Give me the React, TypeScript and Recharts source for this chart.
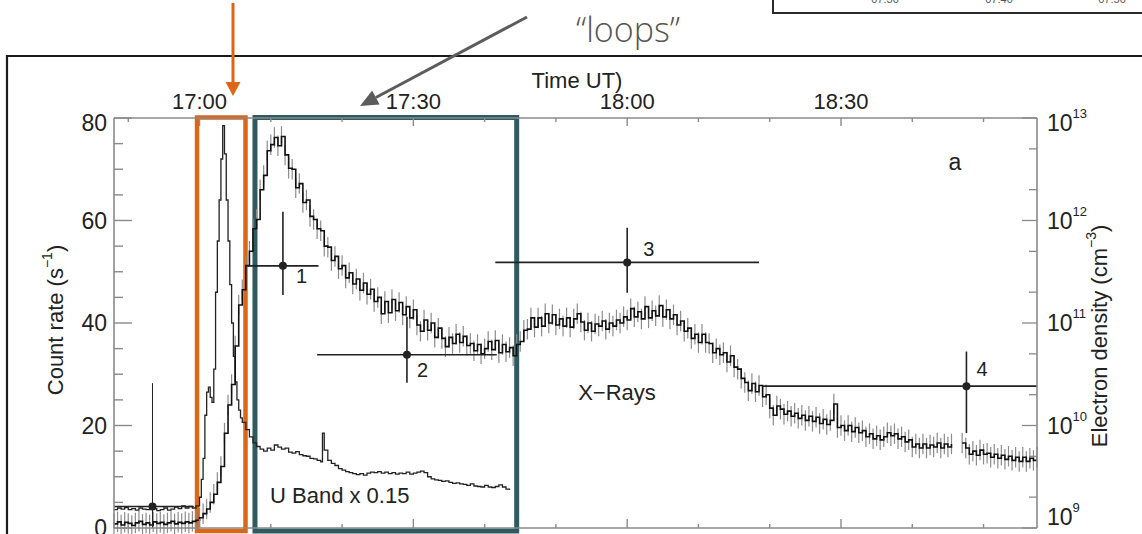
import {
  ComposedChart,
  ErrorBar,
  Line,
  ReferenceArea,
  Scatter,
  XAxis,
  YAxis,
} from "recharts";

const FONT = "'Liberation Sans', Arial, Helvetica, sans-serif";
const INK = "#222";
const AXIS = "#8a8a8a";
const ORANGE = "#dc6516";
const TEAL = "#2f5a60";
const ARROW_GREY = "#5c5c5c";

// time in minutes after 17:00 UT, X-ray count rate (s^-1); null = data gap
const xrayCounts: [number, number | null][] = [
  [-12, 0.8], [-11.5, 1.2], [-11, 0.6], [-10.5, 1.1], [-10, 0.9], [-9.5, 0.5],
  [-9, 1.0], [-8.5, 1.3], [-8, 0.7], [-7.5, 1.0], [-7, 0.6], [-6.5, 1.2],
  [-6, 0.9], [-5.5, 1.1], [-5, 0.7], [-4.5, 1.0], [-4, 1.3], [-3.5, 0.8],
  [-3, 1.1], [-2.5, 0.9], [-2, 1.2], [-1.5, 1.0], [-1, 1.3], [-0.5, 1.5],
  [0, 2.0], [0.5, 2.8], [1, 3.7], [1.5, 5.0], [2, 6.6], [2.5, 8.9],
  [3, 12.0], [3.5, 18.5], [4, 24.0], [4.5, 28.0], [5, 35.5], [5.5, 43.5],
  [6, 46.5], [6.5, 51.2], [7, 54.0], [7.5, 58.4], [8, 60.2], [8.5, 66.0],
  [9, 68.8], [9.5, 73.6], [10, 74.8], [10.5, 76.2], [11, 74.6], [11.5, 76.4],
  [12, 72.8], [12.5, 70.2], [13, 70.0], [13.5, 66.4], [14, 67.2], [14.5, 63.5],
  [15, 64.0], [15.5, 60.8], [16, 60.2], [16.5, 58.4], [17, 58.0], [17.5, 55.0],
  [18, 54.8], [18.5, 52.2], [19, 53.0], [19.5, 50.6], [20, 51.2], [20.5, 48.8],
  [21, 49.8], [21.5, 47.6], [22, 48.6], [22.5, 46.4], [23, 47.8], [23.5, 45.6],
  [24, 46.6], [24.5, 44.2], [25, 45.0], [25.5, 41.8], [26, 44.2], [26.5, 42.0],
  [27, 44.6], [27.5, 42.4], [28, 44.0], [28.5, 41.6], [29, 43.2], [29.5, 41.0],
  [30, 42.6], [30.5, 39.6], [31, 38.4], [31.5, 40.6], [32, 38.6], [32.5, 40.0],
  [33, 37.2], [33.5, 39.0], [34, 37.0], [34.5, 35.4], [35, 37.2], [35.5, 36.0],
  [36, 37.8], [36.5, 36.2], [37, 37.4], [37.5, 35.6], [38, 36.0], [38.5, 34.6],
  [39, 35.8], [39.5, 34.0], [40, 35.0], [40.5, 36.4], [41, 34.8], [41.5, 36.6],
  [42, 34.2], [42.5, 35.8], [43, 34.4], [43.5, 35.2], [44, 33.6], [44.5, 35.8],
  [45, 36.4], [45.5, 38.6], [46, 38.8], [46.5, 41.0], [47, 39.2], [47.5, 41.0],
  [48, 39.4], [48.5, 41.8], [49, 40.0], [49.5, 41.6], [50, 39.6], [50.5, 40.8],
  [51, 39.4], [51.5, 41.0], [52, 39.2], [52.5, 40.8], [53, 41.8], [53.5, 40.2],
  [54, 38.6], [54.5, 40.0], [55, 38.4], [55.5, 39.8], [56, 39.4], [56.5, 40.4],
  [57, 38.8], [57.5, 40.0], [58, 39.4], [58.5, 40.6], [59, 40.0], [59.5, 41.2],
  [60, 40.6], [60.5, 42.8], [61, 41.2], [61.5, 42.2], [62, 40.8], [62.5, 43.2],
  [63, 41.0], [63.5, 42.4], [64, 41.4], [64.5, 43.4], [65, 41.2], [65.5, 42.6],
  [66, 40.8], [66.5, 41.6], [67, 39.6], [67.5, 40.4], [68, 38.4], [68.5, 39.0],
  [69, 37.0], [69.5, 37.8], [70, 36.2], [70.5, 37.8], [71, 36.2], [71.5, 36.0],
  [72, 34.2], [72.5, 35.0], [73, 33.8], [73.5, 34.2], [74, 32.4], [74.5, 33.6],
  [75, 31.4], [75.5, 31.0], [76, 29.2], [76.5, 28.4], [77, 26.8], [77.5, 28.2],
  [78, 26.6], [78.5, 27.8], [79, 25.6], [79.5, 26.0], [80, 23.4], [80.5, 22.0],
  [81, 23.8], [81.5, 23.2], [82, 22.2], [82.5, 22.8], [83, 21.8], [83.5, 22.4],
  [84, 21.4], [84.5, 22.0], [85, 21.0], [85.5, 21.8], [86, 20.8], [86.5, 21.6],
  [87, 20.4], [87.5, 21.2], [88, 20.2], [88.5, 21.0], [89, 24.2], [89.5, 19.6],
  [90, 20.0], [90.5, 19.0], [91, 20.0], [91.5, 18.8], [92, 19.6], [92.5, 18.6],
  [93, 19.0], [93.5, 17.8], [94, 18.4], [94.5, 17.4], [95, 18.0], [95.5, 17.2],
  [96, 17.8], [96.5, 18.6], [97, 18.0], [97.5, 18.4], [98, 17.4], [98.5, 17.8],
  [99, 16.8], [99.5, 17.2], [100, 15.8], [100.5, 16.4], [101, 15.6], [101.5, 16.4],
  [102, 15.6], [102.5, 16.2], [103, 15.8], [103.5, 16.6], [104, 15.6], [104.5, 16.4],
  [105, 15.8], [105.5, 16.4], [106, null], [107, 16.6], [107.5, 15.6], [108, 14.4],
  [108.5, 15.0], [109, 14.2], [109.5, 15.2], [110, 14.4], [110.5, 14.6], [111, 13.8],
  [111.5, 14.4], [112, 13.6], [112.5, 14.2], [113, 13.4], [113.5, 14.0], [114, 13.2],
  [114.5, 13.8], [115, 13.0], [115.5, 13.8], [116, 13.0], [116.5, 13.6], [117, 13.2],
  [117.5, 13.8],
];

// U band rate already multiplied by 0.15
const uBandScaled: [number, number][] = [
  [-12, 3.6], [-11.5, 3.9], [-11, 3.7], [-10.5, 4.0], [-10, 3.6], [-9.5, 3.8],
  [-9, 3.5], [-8.5, 3.9], [-8, 3.7], [-7.5, 3.6], [-7, 4.0], [-6.5, 3.8],
  [-6, 3.4], [-5.5, 3.6], [-5, 3.9], [-4.5, 3.5], [-4, 3.7], [-3.5, 4.1],
  [-3, 3.8], [-2.5, 4.3], [-2, 3.9], [-1.5, 4.2], [-1, 3.9], [-0.5, 4.3],
  [0, 6.0], [0.25, 9.5], [0.5, 13.6], [0.75, 22.0], [1, 26.5], [1.25, 27.5],
  [1.5, 25.5], [1.75, 24.5], [2, 31.0], [2.25, 46.0], [2.5, 56.0], [2.75, 64.0],
  [3, 72.0], [3.25, 78.5], [3.5, 73.0], [3.75, 64.0], [4, 56.0], [4.25, 47.5],
  [4.5, 40.0], [4.75, 33.5], [5, 28.5], [5.25, 25.0], [5.5, 23.0], [5.75, 21.5],
  [6, 20.6], [6.5, 19.2], [7, 17.8], [7.5, 16.6], [8, 15.9], [8.5, 15.4],
  [9, 15.0], [9.5, 15.6], [10, 15.2], [10.5, 16.2], [11, 15.8], [11.5, 15.4],
  [12, 15.6], [12.5, 14.8], [13, 14.6], [13.5, 14.9], [14, 14.3], [14.5, 14.1],
  [15, 14.0], [15.5, 13.6], [16, 13.5], [16.5, 13.2], [17, 12.9], [17.25, 18.5],
  [17.5, 15.2], [18, 13.2], [18.5, 12.6], [19, 12.2], [19.5, 11.6], [20, 11.3],
  [20.5, 11.0], [21, 10.8], [21.5, 10.6], [22, 10.4], [22.5, 10.6], [23, 10.3],
  [23.5, 10.7], [24, 10.9], [24.5, 10.8], [25, 11.0], [25.5, 10.7], [26, 10.9],
  [26.5, 10.6], [27, 10.8], [27.5, 10.5], [28, 10.7], [28.5, 10.6], [29, 10.9],
  [29.5, 10.5], [30, 10.7], [30.5, 10.9], [31, 11.1], [31.5, 10.8], [32, 10.0],
  [32.5, 9.6], [33, 9.4], [33.5, 9.3], [34, 9.1], [34.5, 9.2], [35, 8.9],
  [35.5, 8.7], [36, 8.8], [36.5, 8.6], [37, 8.5], [37.5, 8.3], [38, 8.6],
  [38.5, 8.2], [39, 8.1], [39.5, 8.0], [40, 8.3], [40.5, 8.0], [41, 7.9],
  [41.5, 8.1], [42, 8.4], [42.5, 8.0], [43, 7.6], [43.5, 7.4],
];

// typical 1-sigma uncertainty of the X-ray bins (counts/s)
const XRAY_ERR = 2.0;

// electron density estimates for the four flare intervals
const densityLabels = ["1", "2", "3", "4"];
const densityTime = [11.7, 29.1, 60.0, 107.6];
const densityStart = [6.7, 16.5, 41.5, 79.0];
const densityEnd = [16.7, 41.7, 78.5, 117.5];
const densityValue = [3.61e11, 4.9e10, 3.9e11, 2.42e10];
const densityLower = [1.88e11, 2.61e10, 1.97e11, 8.43e9];
const densityUpper = [1.22e12, 1.15e11, 8.49e11, 5.27e10];

// quiescent (pre-flare) estimate
const quietTime = -6.6;
const quietStart = -12;
const quietEnd = -0.8;
const quietValue = 1.62e9;
const quietLower = 1.0e9;
const quietUpper = 2.59e10;

const timeTicks = [-10, 0, 10, 20, 30, 40, 50, 60, 70, 80, 90, 100, 110];
const countTicks = [0, 5, 10, 15, 20, 25, 30, 35, 40, 45, 50, 55, 60, 65, 70, 75, 80];
const decades = [9, 10, 11, 12];

const densityTicks = [
  ...decades.flatMap((d) => [1, 2, 3, 4, 5, 6, 7, 8, 9].map((m) => m * 10 ** d)),
  1e13,
];

const xrayRows = xrayCounts.map(([t, v]) => ({ t, v, e: v == null ? null : XRAY_ERR }));
const uRows = uBandScaled.map(([t, v]) => ({ t, v }));
const densityRows = densityLabels.map((label, i) => ({
  label,
  t: densityTime[i],
  n: densityValue[i],
  tErr: [densityTime[i] - densityStart[i], densityEnd[i] - densityTime[i]],
  nErr: [densityValue[i] - densityLower[i], densityUpper[i] - densityValue[i]],
}));
const quietRows = [
  {
    label: "",
    t: quietTime,
    n: quietValue,
    tErr: [quietTime - quietStart, quietEnd - quietTime],
    nErr: [quietValue - quietLower, quietUpper - quietValue],
  },
];

const labelOffset: Record<string, [number, number]> = {
  "1": [13, 17],
  "2": [10, 22],
  "3": [16, -6],
  "4": [10, -10],
};

function clock(min: number) {
  const total = 17 * 60 + min;
  const h = Math.floor(total / 60);
  const m = total % 60;
  return `${h}:${String(m).padStart(2, "0")}`;
}

function TopTick({ x, y, payload }: any) {
  const v = payload.value as number;
  const major = v % 30 === 0;
  return (
    <g>
      <line x1={x} x2={x} y1={y} y2={y + (major ? 8 : 4)} stroke={AXIS} strokeWidth={1.4} />
      {major && (
        <text x={x} y={y - 9.5} textAnchor="middle" fontSize={22} fontFamily={FONT} fill={INK}>
          {clock(v)}
        </text>
      )}
    </g>
  );
}

// bottom axis carries tick marks only; its labels fall below the panel
function BottomTick({ x, y, payload }: any) {
  const major = (payload.value as number) % 30 === 0;
  return <line x1={x} x2={x} y1={y} y2={y - (major ? 9 : 4)} stroke={AXIS} strokeWidth={1.4} />;
}

function CountTick({ x, y, payload }: any) {
  const v = payload.value as number;
  const major = v % 20 === 0;
  return (
    <g>
      <line x1={x} x2={x + (major ? 18 : 9)} y1={y} y2={y} stroke={AXIS} strokeWidth={1.4} />
      {major && (
        <text
          x={x - 7}
          y={y + (v === 80 ? 5 : 0)}
          textAnchor="end"
          dominantBaseline="central"
          fontSize={23}
          fontFamily={FONT}
          fill={INK}
        >
          {v}
        </text>
      )}
    </g>
  );
}

function DensityTick({ x, y, payload }: any) {
  const v = payload.value as number;
  const exp = Math.log10(v);
  const major = Math.abs(exp - Math.round(exp)) < 1e-6;
  const shift = Math.round(exp) === 13 ? 5 : Math.round(exp) === 9 ? -11 : 0;
  return (
    <g>
      <line x1={x} x2={x - (major ? 15 : 8)} y1={y} y2={y} stroke={AXIS} strokeWidth={1.3} />
      {major && (
        <text
          x={x + 10}
          y={y + shift}
          dominantBaseline="central"
          fontSize={23}
          fontFamily={FONT}
          fill={INK}
        >
          10
          <tspan dy={-10} fontSize={13}>
            {Math.round(exp)}
          </tspan>
        </text>
      )}
    </g>
  );
}

function DensityDot({ cx, cy, payload }: any) {
  const off = labelOffset[payload.label];
  return (
    <g>
      <circle cx={cx} cy={cy} r={4} fill={INK} />
      {off && (
        <text x={cx + off[0]} y={cy + off[1]} fontSize={20} fontFamily={FONT} fill={INK}>
          {payload.label}
        </text>
      )}
    </g>
  );
}

function Annotations() {
  // gray arrow pointing at the loop phase
  const tail = { x: 527, y: 17 };
  const tip = { x: 360, y: 106 };
  const dx = tip.x - tail.x;
  const dy = tip.y - tail.y;
  const len = Math.hypot(dx, dy);
  const ux = dx / len;
  const uy = dy / len;
  const bx = tip.x - 18 * ux;
  const by = tip.y - 18 * uy;
  const head = `${tip.x},${tip.y} ${bx - 8 * uy},${by + 8 * ux} ${bx + 8 * uy},${by - 8 * ux}`;

  return (
    <svg
      width={1142}
      height={534}
      style={{ position: "absolute", left: 0, top: 0, pointerEvents: "none" }}
      fontFamily={FONT}
    >
      {/* figure frame */}
      <path d="M7,540 L7,56 L1150,56" fill="none" stroke="#1c1c1c" strokeWidth={2.2} />
      {/* edge of the neighbouring panel */}
      <path d="M773,-5 L773,13 L1150,13" fill="none" stroke="#2a2a2a" strokeWidth={2} />
      {["07:30", "07:40", "07:50"].map((s, i) => (
        <text key={s} x={[885, 999, 1112][i]} y={3} textAnchor="middle" fontSize={11} fill="#555">
          {s}
        </text>
      ))}

      <line x1={233} y1={3} x2={233} y2={84} stroke={ORANGE} strokeWidth={3} />
      <polygon points="225.5,82 240.5,82 233,96" fill={ORANGE} />

      <line x1={tail.x} y1={tail.y} x2={bx} y2={by} stroke={ARROW_GREY} strokeWidth={3} />
      <polygon points={head} fill={ARROW_GREY} />
      <text
        x={628}
        y={42}
        textAnchor="middle"
        fontSize={34}
        fontFamily="'Open Sans', 'Liberation Sans', sans-serif"
        fontWeight={300}
        fill="#555"
      >
        “loops”
      </text>

      <text x={577} y={88} textAnchor="middle" fontSize={22} fill={INK}>
        Time UT)
      </text>
      <text
        x={55}
        y={320}
        transform="rotate(-90 55 320)"
        textAnchor="middle"
        dominantBaseline="central"
        fontSize={22}
        fill={INK}
      >
        Count rate (s
        <tspan dy={-8} fontSize={14}>
          −1
        </tspan>
        <tspan dy={8}>)</tspan>
      </text>
      <text
        x={1099}
        y={336}
        transform="rotate(-90 1099 336)"
        textAnchor="middle"
        dominantBaseline="central"
        fontSize={22}
        fill={INK}
      >
        Electron density (cm
        <tspan dy={-8} fontSize={14}>
          −3
        </tspan>
        <tspan dy={8}>)</tspan>
      </text>
      <text x={955} y={170} textAnchor="middle" fontSize={23} fill={INK}>
        a
      </text>
      <text x={617} y={400} textAnchor="middle" fontSize={22} fill={INK}>
        X−Rays
      </text>
      <text x={270} y={503} fontSize={22} fill={INK}>
        U Band x 0.15
      </text>
    </svg>
  );
}

export default function App() {
  return (
    <div
      style={{
        position: "fixed",
        left: 0,
        top: 0,
        width: 1142,
        height: 534,
        overflow: "hidden",
        background: "#fff",
      }}
    >
      <ComposedChart width={1142} height={560} margin={{ top: 88, right: 45, bottom: 2, left: 54 }}>
        <XAxis
          xAxisId="top"
          orientation="top"
          dataKey="t"
          type="number"
          domain={[-12, 117.5]}
          allowDataOverflow
          ticks={timeTicks}
          tick={<TopTick />}
          tickLine={false}
          tickSize={0}
          tickMargin={0}
          height={30}
          axisLine={{ stroke: AXIS, strokeWidth: 1.6 }}
        />
        <XAxis
          xAxisId="bottom"
          orientation="bottom"
          dataKey="t"
          type="number"
          domain={[-12, 117.5]}
          allowDataOverflow
          ticks={timeTicks}
          tick={<BottomTick />}
          tickLine={false}
          tickSize={0}
          tickMargin={0}
          height={30}
          axisLine={{ stroke: AXIS, strokeWidth: 1.6 }}
        />
        <YAxis
          yAxisId="count"
          orientation="left"
          type="number"
          domain={[0, 80]}
          allowDataOverflow
          ticks={countTicks}
          tick={<CountTick />}
          tickLine={false}
          tickSize={0}
          tickMargin={0}
          width={60}
          axisLine={{ stroke: AXIS, strokeWidth: 1.6 }}
        />
        <YAxis
          yAxisId="dens"
          orientation="right"
          type="number"
          scale="log"
          domain={[1e9, 1e13]}
          allowDataOverflow
          ticks={densityTicks}
          tick={<DensityTick />}
          tickLine={false}
          tickSize={0}
          tickMargin={0}
          width={60}
          axisLine={{ stroke: AXIS, strokeWidth: 1.6 }}
        />

        <Line
          xAxisId="bottom"
          yAxisId="count"
          data={uRows}
          dataKey="v"
          type="stepAfter"
          stroke={INK}
          strokeWidth={1.3}
          dot={false}
          isAnimationActive={false}
        />
        <Line
          xAxisId="bottom"
          yAxisId="count"
          data={xrayRows}
          dataKey="v"
          type="stepAfter"
          stroke="#111"
          strokeWidth={1.6}
          dot={false}
          connectNulls={false}
          isAnimationActive={false}
        >
          <ErrorBar dataKey="e" direction="y" width={0} stroke="#8c8c8c" strokeWidth={1.2} />
        </Line>

        <Scatter
          xAxisId="bottom"
          yAxisId="dens"
          data={densityRows}
          dataKey="n"
          shape={<DensityDot />}
          isAnimationActive={false}
        >
          <ErrorBar dataKey="tErr" direction="x" width={0} stroke={INK} strokeWidth={1.6} />
          <ErrorBar dataKey="nErr" direction="y" width={0} stroke={INK} strokeWidth={1.6} />
        </Scatter>
        <Scatter
          xAxisId="bottom"
          yAxisId="dens"
          data={quietRows}
          dataKey="n"
          shape={<DensityDot />}
          isAnimationActive={false}
        >
          <ErrorBar dataKey="tErr" direction="x" width={0} stroke={INK} strokeWidth={1.3} />
          <ErrorBar dataKey="nErr" direction="y" width={0} stroke={INK} strokeWidth={1} />
        </Scatter>

        <ReferenceArea
          xAxisId="top"
          yAxisId="count"
          x1={-0.35}
          x2={6.45}
          y1={-0.6}
          y2={80.1}
          ifOverflow="visible"
          fill="none"
          fillOpacity={0}
          stroke={ORANGE}
          strokeWidth={4.5}
        />
        <ReferenceArea
          xAxisId="top"
          yAxisId="count"
          x1={7.78}
          x2={44.5}
          y1={-0.6}
          y2={80.1}
          ifOverflow="visible"
          fill="none"
          fillOpacity={0}
          stroke={TEAL}
          strokeWidth={5}
        />
      </ComposedChart>
      <Annotations />
    </div>
  );
}
